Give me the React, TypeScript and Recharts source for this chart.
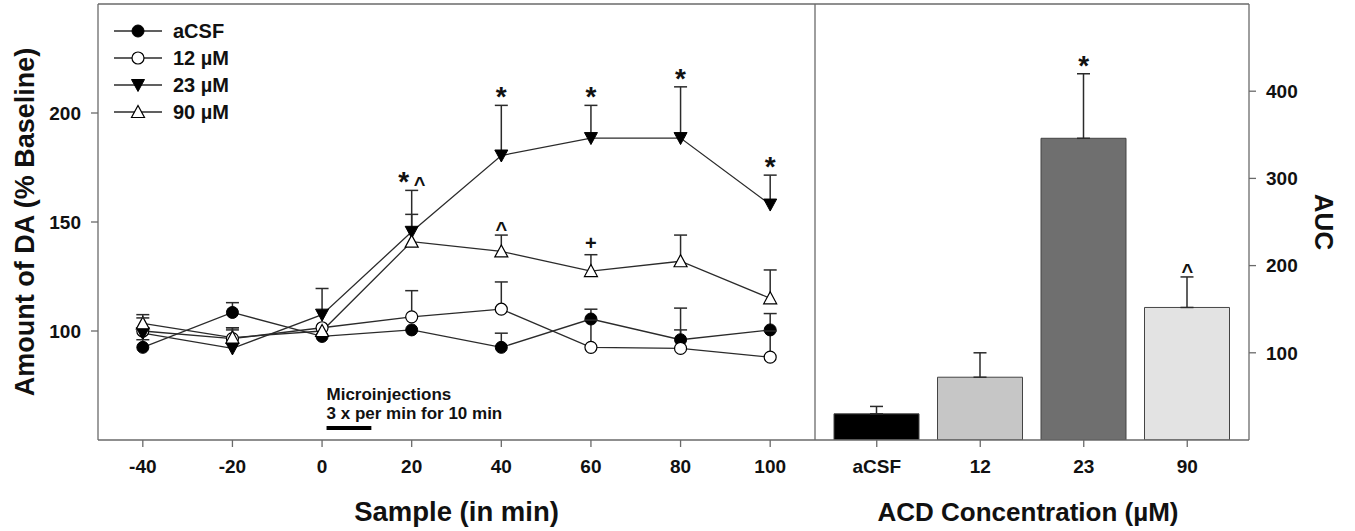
import React from "react";
import {
  ComposedChart,
  Line,
  Bar,
  XAxis,
  YAxis,
  ErrorBar,
  ReferenceLine,
  ReferenceDot,
  LabelList,
  Label,
  Legend,
  Cell,
} from "recharts";

const FONT = '"Liberation Sans", Arial, Helvetica, sans-serif';
const INK = "#111";
const FRAME = "#6a6a6a";
const LINE = "#2b2b2b";

// time course, % baseline (mean and SEM)
const minutes = [-40, -20, 0, 20, 40, 60, 80, 100];
const acsf = [92.5, 108.5, 97.5, 100.5, 92.5, 105.5, 96, 100.5];
const acsfErr = [3.5, 4.5, 0, 0, 6.5, 4.5, 14.5, 7.5];
const acsfSig = ["", "", "", "", "", "", "", ""];
const um12 = [100, 96.5, 101.5, 106.5, 110, 92.5, 92, 88];
const um12Err = [6, 5, 0, 12, 12.5, 12.5, 8.5, 12];
const um12Sig = ["", "", "", "", "", "", "", ""];
const um23 = [99, 92, 107.5, 145.5, 180.5, 188.5, 188.5, 158];
const um23Err = [0, 9.5, 12, 19, 23, 15, 23.5, 13.5];
const um23Sig = ["", "", "", "*^", "*", "*", "*", "*"];
const um90 = [103.5, 97, 100, 141, 136.5, 127.5, 132, 115];
const um90Err = [4, 3.5, 0, 12.5, 7.5, 7.5, 12, 13];
const um90Sig = ["", "", "", "", "^", "+", "", ""];

const seriesNames = ["aCSF", "12 µM", "23 µM", "90 µM"];
const yTicks = [100, 150, 200];

// microinjection period (min)
const injection = [1, 11];

// AUC panel
const groups = ["aCSF", "12", "23", "90"];
const auc = [30, 72, 346, 152];
const aucErr = [8.5, 28, 74, 35];
const aucSig = ["", "", "*", "^"];
const barFills = ["#000000", "#c6c6c6", "#6f6f6f", "#e3e3e3"];
const aucTicks = [100, 200, 300, 400];

const series = [
  { key: "acsf", name: seriesNames[0], mean: acsf, err: acsfErr, sig: acsfSig, kind: "dot" },
  { key: "um12", name: seriesNames[1], mean: um12, err: um12Err, sig: um12Sig, kind: "ring" },
  { key: "um23", name: seriesNames[2], mean: um23, err: um23Err, sig: um23Sig, kind: "down" },
  { key: "um90", name: seriesNames[3], mean: um90, err: um90Err, sig: um90Sig, kind: "up" },
];

const timeRows = minutes.map((m, i) => {
  const row: Record<string, any> = { minute: m };
  series.forEach((s) => {
    row[s.key] = s.mean[i];
    row[s.key + "Err"] = [0, s.err[i]];
    row[s.key + "Top"] = s.err[i] > 0 ? s.mean[i] + s.err[i] : null;
    row[s.key + "Sig"] = s.sig[i];
  });
  return row;
});

const aucRows = groups.map((g, i) => ({
  group: g,
  auc: auc[i],
  aucErr: [0, aucErr[i]],
  aucTop: auc[i] + aucErr[i],
  aucSig: aucSig[i],
}));

const tickStyle = { fill: INK, fontSize: 19, fontWeight: 700, fontFamily: FONT };

function Marker({ cx, cy, kind }: { cx: number; cy: number; kind: string }) {
  if (kind === "dot") return <circle cx={cx} cy={cy} r={6} fill="#000" stroke="#000" strokeWidth={1} />;
  if (kind === "ring") return <circle cx={cx} cy={cy} r={6} fill="#fff" stroke="#000" strokeWidth={1.2} />;
  if (kind === "down")
    return (
      <path
        d={`M${cx - 6.5},${cy - 5.5}L${cx + 6.5},${cy - 5.5}L${cx},${cy + 6.5}Z`}
        fill="#000"
        stroke="#000"
        strokeWidth={1}
      />
    );
  return (
    <path
      d={`M${cx - 6.5},${cy + 5.5}L${cx + 6.5},${cy + 5.5}L${cx},${cy - 6.5}Z`}
      fill="#fff"
      stroke="#000"
      strokeWidth={1.2}
    />
  );
}

// cap on top of an upward-only error bar
function Cap(props: any) {
  const { cx, cy, index, dataKey } = props;
  if (cy == null || isNaN(cy) || props.payload?.[dataKey] == null) return <g key={`${dataKey}-${index}`} />;
  return (
    <line
      key={`${dataKey}-${index}`}
      x1={cx - 6.5}
      x2={cx + 6.5}
      y1={cy}
      y2={cy}
      stroke={LINE}
      strokeWidth={1.5}
    />
  );
}

// significance symbols above the caps
function SigMark(props: any) {
  const { x, y, value } = props;
  if (!value || y == null) return null;
  const chars = String(value).split("");
  const step = 16;
  const start = x - ((chars.length - 1) * step) / 2;
  return (
    <g>
      {chars.map((c, i) => (
        <text
          key={i}
          x={start + i * step}
          y={y + (c === "*" ? 1 : c === "^" ? 1 : -5)}
          textAnchor="middle"
          fontSize={c === "*" ? 28 : 20}
          fontWeight={700}
          fontFamily={FONT}
          fill={INK}
        >
          {c}
        </text>
      ))}
    </g>
  );
}

function LegendBox() {
  return (
    <svg width={170} height={112} style={{ display: "block" }}>
      {series.map((s, i) => {
        const cy = 15 + i * 27;
        return (
          <g key={s.key}>
            <line x1={2} x2={50} y1={cy} y2={cy} stroke={LINE} strokeWidth={1.3} />
            <Marker cx={26} cy={cy} kind={s.kind} />
            <text
              x={61}
              y={cy}
              dominantBaseline="central"
              fontSize={20}
              fontWeight={700}
              fontFamily={FONT}
              fill={INK}
            >
              {s.name}
            </text>
          </g>
        );
      })}
    </svg>
  );
}

function TimeCourse() {
  return (
    <ComposedChart width={820} height={531} data={timeRows} margin={{ top: 4, right: 5, bottom: 0, left: 0 }}>
      <XAxis
        dataKey="minute"
        type="number"
        domain={[-50, 110]}
        ticks={minutes}
        allowDataOverflow
        height={91}
        tickSize={7}
        tickMargin={13}
        axisLine={{ stroke: FRAME, strokeWidth: 1.3 }}
        tickLine={{ stroke: FRAME, strokeWidth: 1.3 }}
        tick={tickStyle}
      >
        <Label
          content={(p: any) => {
            const vb = p.viewBox;
            return (
              <text
                x={vb.x + vb.width / 2}
                y={vb.y + 81}
                textAnchor="middle"
                fontSize={27.5}
                fontWeight={700}
                fontFamily={FONT}
                fill={INK}
              >
                Sample (in min)
              </text>
            );
          }}
        />
      </XAxis>
      <YAxis
        domain={[50, 250]}
        ticks={yTicks}
        allowDataOverflow
        width={98}
        tickSize={7}
        tickMargin={10}
        axisLine={{ stroke: FRAME, strokeWidth: 1.3 }}
        tickLine={{ stroke: FRAME, strokeWidth: 1.3 }}
        tick={tickStyle}
      >
        <Label
          content={(p: any) => {
            const vb = p.viewBox;
            const cx = vb.x + 25;
            const cy = vb.y + vb.height / 2;
            return (
              <text
                x={cx}
                y={cy}
                transform={`rotate(-90, ${cx}, ${cy})`}
                textAnchor="middle"
                dominantBaseline="central"
                fontSize={27}
                fontWeight={700}
                fontFamily={FONT}
                fill={INK}
              >
                Amount of DA (% Baseline)
              </text>
            );
          }}
        />
      </YAxis>
      <ReferenceLine y={250} stroke={FRAME} strokeWidth={1.3} />
      <ReferenceLine x={110} stroke={FRAME} strokeWidth={1.3} />
      <ReferenceLine
        segment={[
          { x: injection[0], y: 55.5 },
          { x: injection[1], y: 55.5 },
        ]}
        stroke="#000"
        strokeWidth={4}
      />
      <ReferenceDot
        x={injection[0]}
        y={68.3}
        r={1}
        fill="none"
        stroke="none"
        label={{
          content: (p: any) => {
            const vb = p.viewBox;
            const x = vb.x + vb.width / 2;
            const y = vb.y + vb.height / 2;
            return (
              <text fontSize={17} fontWeight={700} fontFamily={FONT} fill={INK}>
                <tspan x={x} y={y}>
                  Microinjections
                </tspan>
                <tspan x={x} y={y + 18.5}>
                  3 x per min for 10 min
                </tspan>
              </text>
            );
          },
        }}
      />
      <Legend
        layout="horizontal"
        verticalAlign="middle"
        align="center"
        wrapperStyle={{ position: "absolute", left: 112, top: 16, width: 170, height: 112, margin: 0, padding: 0, lineHeight: 0 }}
        content={() => <LegendBox />}
      />
      {series.map((s) => (
        <Line
          key={s.key}
          dataKey={s.key}
          name={s.name}
          stroke={LINE}
          strokeWidth={1.3}
          isAnimationActive={false}
          activeDot={false}
          dot={(p: any) => <Marker key={`${s.key}-${p.index}`} cx={p.cx} cy={p.cy} kind={s.kind} />}
        >
          <ErrorBar dataKey={s.key + "Err"} width={0} stroke={LINE} strokeWidth={1.5} />
        </Line>
      ))}
      {series.map((s) => (
        <Line
          key={s.key + "Top"}
          dataKey={s.key + "Top"}
          stroke="none"
          legendType="none"
          isAnimationActive={false}
          activeDot={false}
          dot={(p: any) => <Cap {...p} dataKey={s.key + "Top"} />}
        >
          <LabelList dataKey={s.key + "Sig"} content={SigMark} />
        </Line>
      ))}
    </ComposedChart>
  );
}

function AucPanel() {
  return (
    <ComposedChart width={540} height={531} data={aucRows} margin={{ top: 4, right: 0, bottom: 0, left: 0 }}>
      <XAxis
        dataKey="group"
        type="category"
        padding={{ left: 10, right: 10 }}
        height={91}
        tickSize={7}
        tickMargin={13}
        axisLine={{ stroke: FRAME, strokeWidth: 1.3 }}
        tickLine={{ stroke: FRAME, strokeWidth: 1.3 }}
        tick={tickStyle}
      >
        <Label
          content={(p: any) => {
            const vb = p.viewBox;
            return (
              <text
                x={vb.x + vb.width / 2 - 4}
                y={vb.y + 81}
                textAnchor="middle"
                fontSize={26}
                fontWeight={700}
                fontFamily={FONT}
                fill={INK}
              >
                ACD Concentration (µM)
              </text>
            );
          }}
        />
      </XAxis>
      <YAxis
        orientation="right"
        domain={[0, 500]}
        ticks={aucTicks}
        allowDataOverflow
        width={106}
        tickSize={7}
        tickMargin={10}
        axisLine={{ stroke: FRAME, strokeWidth: 1.3 }}
        tickLine={{ stroke: FRAME, strokeWidth: 1.3 }}
        tick={tickStyle}
      >
        <Label
          content={(p: any) => {
            const vb = p.viewBox;
            const cx = vb.x + 75;
            const cy = vb.y + vb.height / 2;
            return (
              <text
                x={cx}
                y={cy}
                transform={`rotate(90, ${cx}, ${cy})`}
                textAnchor="middle"
                dominantBaseline="central"
                fontSize={26}
                fontWeight={700}
                fontFamily={FONT}
                fill={INK}
              >
                AUC
              </text>
            );
          }}
        />
      </YAxis>
      <ReferenceLine y={500} stroke={FRAME} strokeWidth={1.3} />
      <Bar dataKey="auc" barSize={85} stroke="#444" strokeWidth={1} isAnimationActive={false}>
        {aucRows.map((r, i) => (
          <Cell key={r.group} fill={barFills[i]} />
        ))}
        <ErrorBar dataKey="aucErr" width={6.5} stroke={LINE} strokeWidth={1.5} />
      </Bar>
      <Line
        dataKey="aucTop"
        stroke="none"
        dot={false}
        activeDot={false}
        legendType="none"
        isAnimationActive={false}
      >
        <LabelList dataKey="aucSig" content={SigMark} />
      </Line>
    </ComposedChart>
  );
}

export default function App() {
  return (
    <div
      style={{
        position: "absolute",
        left: 0,
        top: 0,
        width: 1355,
        height: 531,
        background: "#fff",
        overflow: "hidden",
      }}
    >
      <div style={{ position: "absolute", left: 0, top: 0 }}>
        <TimeCourse />
      </div>
      <div style={{ position: "absolute", left: 815, top: 0 }}>
        <AucPanel />
      </div>
    </div>
  );
}
